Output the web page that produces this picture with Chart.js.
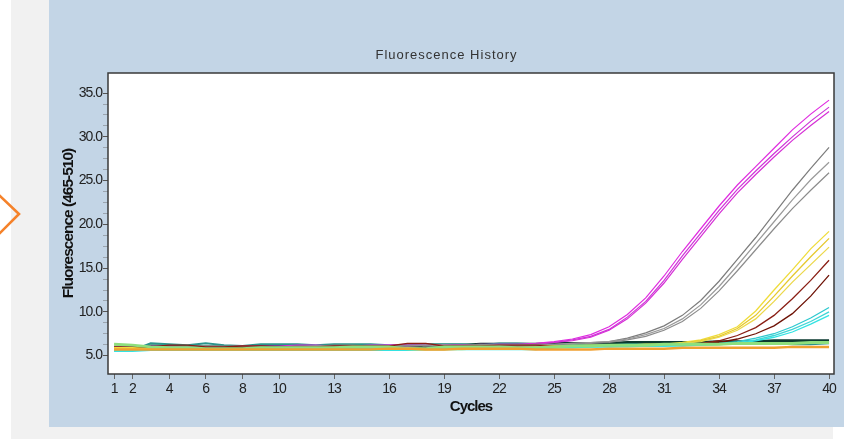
<!DOCTYPE html>
<html>
<head>
<meta charset="utf-8">
<script src="https://cdn.jsdelivr.net/npm/chart.js@4/dist/chart.umd.min.js"></script>
<style>
  html, body { margin: 0; padding: 0; }
  body { width: 844px; height: 439px; background: #ffffff; position: relative; overflow: hidden; }
  #leftGray { position: absolute; left: 11px; top: 0; width: 38px; height: 439px; background: #f1f1f1; }
  #bottomGray { position: absolute; left: 11px; top: 427px; width: 822px; height: 12px; background: #f1f1f1; }
  #panel { position: absolute; left: 49px; top: 0; width: 795px; height: 427px; background: #c3d5e6; }
  #chev { position: absolute; left: 0; top: 0; }
  canvas { display: block; }
</style>
</head>
<body>
<div id="leftGray"></div>
<div id="bottomGray"></div>
<svg id="chev" width="40" height="439"><polyline points="-1,195 19,214 -1,234" fill="none" stroke="#f5822a" stroke-width="2.6"/></svg>
<div id="panel"><canvas id="c" width="795" height="427"></canvas></div>
<script>
// ---------- data ----------
const chartTitle = 'Fluorescence History';
const cycles = [1,2,3,4,5,6,7,8,9,10,11,12,13,14,15,16,17,18,19,20,21,22,23,24,25,26,27,28,29,30,31,32,33,34,35,36,37,38,39,40];
const xTickValues = [1,2,4,6,8,10,13,16,19,22,25,28,31,34,37,40];
const yTickValues = [5,6.25,7.5,8.75,10,11.25,12.5,13.75,15,16.25,17.5,18.75,20,21.25,22.5,23.75,25,26.25,27.5,28.75,30,31.25,32.5,33.75,35];

const magenta1 = [6.0,6.0,6.1,6.1,6.0,6.0,6.0,6.1,6.1,6.1,6.2,6.2,6.1,6.1,6.2,6.2,6.3,6.3,6.2,6.2,6.3,6.3,6.3,6.4,6.6,6.9,7.4,8.3,9.7,11.6,14.1,16.9,19.5,22.1,24.5,26.6,28.7,30.8,32.6,34.2];
const magenta2 = [5.9,6.0,6.0,6.0,6.0,5.9,5.9,6.0,6.0,6.0,6.1,6.1,6.1,6.1,6.1,6.2,6.2,6.2,6.2,6.2,6.2,6.3,6.3,6.3,6.5,6.8,7.2,8.0,9.4,11.2,13.6,16.4,19.0,21.6,24.0,26.1,28.1,30.0,31.8,33.4];
const magenta3 = [5.9,5.9,6.0,6.0,5.9,5.9,5.9,5.9,6.0,6.0,6.0,6.0,6.0,6.1,6.1,6.1,6.1,6.2,6.2,6.2,6.2,6.2,6.2,6.3,6.5,6.7,7.1,7.9,9.2,11.0,13.3,16.0,18.6,21.2,23.6,25.7,27.7,29.6,31.3,32.9];
const gray1 = [6.1,6.1,6.0,6.0,6.0,6.1,6.1,6.1,6.0,6.0,6.1,6.1,6.2,6.2,6.1,6.1,6.2,6.2,6.2,6.2,6.3,6.2,6.2,6.3,6.3,6.4,6.5,6.6,7.0,7.6,8.4,9.6,11.3,13.5,16.0,18.5,21.2,23.9,26.4,28.8];
const gray2 = [6.0,6.0,6.0,5.9,5.9,6.0,6.0,6.0,6.0,6.0,6.0,6.1,6.1,6.1,6.1,6.1,6.1,6.2,6.2,6.1,6.2,6.2,6.2,6.2,6.3,6.4,6.5,6.6,6.9,7.4,8.1,9.2,10.8,12.9,15.3,17.8,20.3,22.8,25.1,27.1];
const gray3 = [5.9,5.9,5.9,5.9,5.9,5.9,5.9,6.0,6.0,5.9,6.0,6.0,6.0,6.0,6.0,6.1,6.1,6.1,6.1,6.1,6.1,6.1,6.2,6.2,6.2,6.3,6.4,6.5,6.8,7.2,7.9,8.9,10.4,12.4,14.7,17.1,19.5,21.8,23.9,25.9];
const yellow1 = [5.9,5.9,5.8,5.8,5.8,5.8,5.8,5.8,5.8,5.8,5.8,5.8,5.9,5.9,5.9,5.9,5.9,5.8,5.8,5.9,5.9,5.9,5.9,6.0,6.1,6.1,6.2,6.2,6.2,6.3,6.3,6.5,6.8,7.4,8.3,10.1,12.5,14.8,17.2,19.2];
const yellow2 = [5.8,5.8,5.8,5.8,5.8,5.8,5.8,5.8,5.7,5.7,5.8,5.8,5.8,5.8,5.8,5.8,5.7,5.7,5.7,5.8,5.8,5.8,5.9,5.9,6.0,6.1,6.1,6.1,6.2,6.2,6.3,6.4,6.7,7.2,8.1,9.6,11.8,14.1,16.3,18.4];
const yellow3 = [5.8,5.8,5.8,5.8,5.8,5.8,5.8,5.8,5.8,5.7,5.7,5.7,5.7,5.7,5.7,5.7,5.7,5.7,5.7,5.7,5.8,5.8,5.8,5.9,6.0,6.0,6.1,6.1,6.1,6.2,6.2,6.4,6.6,7.1,7.9,9.2,11.2,13.4,15.4,17.4];
const maroon1 = [6.0,6.0,6.0,6.2,6.2,6.0,6.0,6.1,6.1,6.0,6.0,6.0,6.1,6.1,6.1,6.1,6.4,6.4,6.1,6.1,6.1,6.2,6.2,6.2,6.1,6.1,6.1,6.2,6.2,6.2,6.3,6.3,6.4,6.7,7.3,8.2,9.6,11.5,13.6,15.9];
const maroon2 = [5.9,5.9,5.9,5.9,5.9,5.9,5.9,5.9,5.9,5.9,5.9,5.9,5.9,6.0,6.0,5.9,5.9,5.9,5.9,5.9,5.9,6.0,6.0,6.0,6.0,6.0,6.1,6.1,6.1,6.2,6.2,6.2,6.3,6.5,6.9,7.5,8.4,9.8,11.8,14.2];
const cyan1 = [5.6,5.6,5.7,5.7,5.7,5.7,5.7,5.7,5.7,5.7,5.7,5.8,5.8,5.8,5.8,5.8,5.8,5.8,5.8,5.8,5.8,5.9,5.9,5.9,6.0,6.0,6.0,6.1,6.1,6.1,6.2,6.2,6.3,6.4,6.6,7.0,7.5,8.3,9.3,10.5];
const cyan2 = [5.6,5.6,5.6,5.6,5.6,5.6,5.7,5.7,5.7,5.7,5.7,5.7,5.7,5.7,5.7,5.7,5.7,5.8,5.8,5.8,5.8,5.8,5.8,5.8,5.9,6.0,6.0,6.0,6.1,6.1,6.1,6.2,6.2,6.3,6.5,6.8,7.3,8.0,8.9,10.0];
const cyan3 = [5.5,5.5,5.6,5.6,5.6,5.6,5.6,5.6,5.6,5.6,5.6,5.6,5.6,5.6,5.6,5.6,5.6,5.7,5.7,5.7,5.7,5.7,5.7,5.7,5.9,5.9,6.0,6.0,6.0,6.1,6.1,6.1,6.2,6.3,6.4,6.7,7.1,7.7,8.6,9.6];
const ntcDark = [5.9,5.9,6.1,6.1,6.0,6.0,6.0,6.0,6.1,6.1,6.1,6.0,6.1,6.1,6.1,6.0,6.0,6.2,6.2,6.2,6.3,6.3,6.3,6.3,6.4,6.4,6.4,6.4,6.5,6.5,6.5,6.5,6.5,6.6,6.6,6.6,6.7,6.7,6.7,6.7];
const ntcGreen = [6.3,6.2,6.0,5.9,5.9,5.8,5.8,5.8,5.9,5.9,5.9,5.9,5.9,6.0,6.0,6.0,5.8,5.8,6.0,6.0,6.0,6.0,5.9,5.9,6.0,6.1,6.1,6.2,6.2,6.2,6.3,6.3,6.3,6.3,6.4,6.4,6.4,6.4,6.5,6.5];
const ntcTeal = [5.6,5.6,6.4,6.3,6.2,6.4,6.2,6.1,6.3,6.3,6.3,6.2,6.3,6.3,6.3,6.2,6.2,6.3,6.3,6.3,6.2,6.4,6.4,6.3,6.2,6.3,6.2,6.2,6.3,6.3,6.2,6.3,6.3,6.3,6.4,6.4,6.4,6.3,6.3,6.4];
const ntcOrange = [5.7,5.7,5.7,5.7,5.7,5.7,5.7,5.7,5.7,5.7,5.7,5.7,5.7,5.7,5.7,5.8,5.8,5.7,5.7,5.8,5.8,5.8,5.8,5.7,5.7,5.7,5.7,5.8,5.8,5.8,5.8,5.9,5.9,5.9,5.9,5.9,5.9,6.0,6.0,6.0];

const seriesList = [
  { data: ntcOrange, color: '#f0a030', width: 2.5 },
  { data: ntcGreen, color: '#8edf7c', width: 3 },
  { data: cyan3, color: '#33e3e3', width: 1.3 },
  { data: cyan2, color: '#3fd6d6', width: 1.3 },
  { data: cyan1, color: '#2ec9cf', width: 1.3 },
  { data: yellow3, color: '#ecd84a', width: 1.3 },
  { data: yellow2, color: '#e6c92e', width: 1.3 },
  { data: yellow1, color: '#efdc3a', width: 1.3 },
  { data: maroon2, color: '#6e1206', width: 1.3 },
  { data: maroon1, color: '#8a1e14', width: 1.3 },
  { data: gray3, color: '#8c8c8c', width: 1.2 },
  { data: gray2, color: '#9a9a9a', width: 1.2 },
  { data: gray1, color: '#7c7c7c', width: 1.2 },
  { data: magenta3, color: '#d62fd6', width: 1.2 },
  { data: magenta2, color: '#cc35d8', width: 1.2 },
  { data: magenta1, color: '#e02be0', width: 1.2 },
  { data: ntcTeal, color: '#2a948c', width: 2 },
  { data: ntcDark, color: '#0b3a30', width: 3 }
];

const plotFrame = {
  id: 'plotFrame',
  beforeDraw(chart) {
    // condensed look for the axis texts (reference uses a narrow face)
    chart.ctx.letterSpacing = '-1px';
  },
  beforeDatasetsDraw(chart) {
    const a = chart.chartArea, ctx = chart.ctx;
    ctx.save();
    ctx.fillStyle = '#ffffff';
    ctx.fillRect(a.left, a.top, a.right - a.left, a.bottom - a.top);
    ctx.restore();
  },
  afterDatasetsDraw(chart) {
    const a = chart.chartArea, ctx = chart.ctx;
    ctx.save();
    ctx.strokeStyle = '#3a3a3a';
    ctx.lineWidth = 1.5;
    ctx.strokeRect(a.left, a.top, a.right - a.left, a.bottom - a.top);
    ctx.restore();
  },
  afterDraw(chart) {
    const ctx = chart.ctx;
    ctx.save();
    ctx.letterSpacing = '1px';
    ctx.font = '13px "Liberation Sans", Arial, sans-serif';
    ctx.fillStyle = '#333333';
    ctx.textAlign = 'center';
    ctx.textBaseline = 'middle';
    ctx.fillText(chartTitle, chart.width / 2, 55);
    ctx.restore();
    ctx.letterSpacing = '0px';
  }
};

const narrow = '"Liberation Sans Narrow", "Liberation Sans", Arial, sans-serif';

new Chart(document.getElementById('c'), {
  type: 'line',
  data: {
    datasets: seriesList.map(s => ({
      data: s.data.map((v, i) => ({ x: cycles[i], y: v })),
      borderColor: s.color,
      borderWidth: s.width,
      pointRadius: 0,
      tension: 0,
      fill: false
    }))
  },
  options: {
    responsive: false,
    devicePixelRatio: 1,
    animation: false,
    events: [],
    layout: { padding: { left: 10, right: 10, top: 73, bottom: 11 } },
    plugins: {
      legend: { display: false },
      tooltip: { enabled: false },
      title: { display: false }
    },
    scales: {
      x: {
        type: 'linear',
        min: 0.67,
        max: 40.27,
        afterBuildTicks: (scale) => { scale.ticks = xTickValues.map(v => ({ value: v })); },
        afterFit: (scale) => { scale.height = 42; },
        ticks: {
          autoSkip: false,
          maxRotation: 0,
          padding: 2,
          color: '#222222',
          font: { family: narrow, size: 14 },
          callback: (v) => String(v)
        },
        grid: { drawOnChartArea: false, drawTicks: true, tickLength: 5, color: '#666666' },
        border: { display: false },
        title: {
          display: true,
          text: 'Cycles',
          color: '#111111',
          font: { family: '"Liberation Sans", Arial, sans-serif', size: 15, weight: 'bold' },
          padding: 0
        }
      },
      y: {
        type: 'linear',
        min: 2.9,
        max: 37.3,
        afterBuildTicks: (scale) => { scale.ticks = yTickValues.map(v => ({ value: v })); },
        afterFit: (scale) => { scale.width = 49; },
        ticks: {
          autoSkip: false,
          padding: 1,
          color: '#222222',
          font: { family: narrow, size: 14 },
          callback: (v) => (Math.abs(v / 5 - Math.round(v / 5)) < 1e-6 ? v.toFixed(1) : '')
        },
        grid: {
          drawOnChartArea: false,
          drawTicks: true,
          tickLength: 5,
          color: (ctx) => (ctx.tick && Math.abs(ctx.tick.value / 5 - Math.round(ctx.tick.value / 5)) < 1e-6 ? '#555555' : '#9aa4ae')
        },
        border: { display: false },
        title: {
          display: true,
          text: 'Fluorescence (465-510)',
          color: '#111111',
          font: { family: '"Liberation Sans", Arial, sans-serif', size: 15.5, weight: 'bold' },
          padding: 0
        }
      }
    }
  },
  plugins: [plotFrame]
});
</script>
</body>
</html>
